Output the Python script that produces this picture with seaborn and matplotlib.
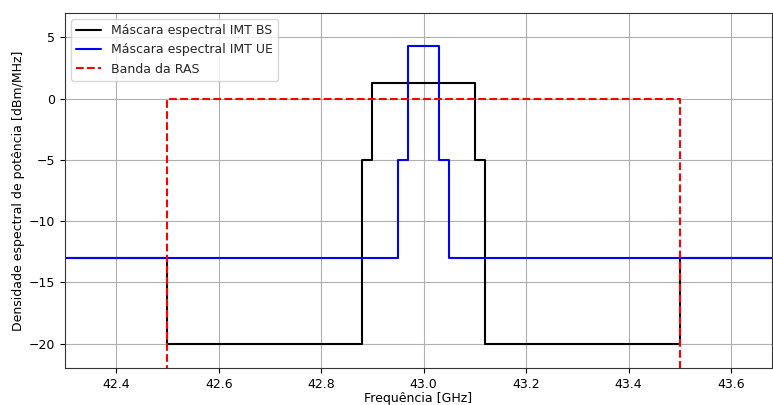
import numpy as np
import pandas as pd
import matplotlib
matplotlib.use("Agg")
import matplotlib.pyplot as plt
import seaborn as sns

# step breakpoints (GHz) and levels (dBm/MHz)
bs_freq = [42.3, 42.5, 42.88, 42.9, 43.1, 43.12, 43.5, 43.68]
bs_level = [-13, -20, -5, 1.3, -5, -20, -13, -13]

ue_freq = [42.3, 42.95, 42.97, 43.03, 43.05, 43.68]
ue_level = [-13, -5, 4.3, -5, -13, -13]

ras_freq = [42.5, 42.5, 43.5, 43.5]
ras_level = [-30, 0, 0, -30]

xticks = [42.4, 42.6, 42.8, 43.0, 43.2, 43.4, 43.6]
yticks = [-20, -15, -10, -5, 0, 5]

sns.set_style("ticks")
plt.rcParams['font.family'] = ['DejaVu Sans']

fig = plt.figure(figsize=(7.73, 4.05), dpi=100)
ax = fig.add_axes([65 / 773, 37 / 405, 707 / 773, 355 / 405])

bs = pd.DataFrame({'f': bs_freq, 'p': bs_level})
ue = pd.DataFrame({'f': ue_freq, 'p': ue_level})
ras = pd.DataFrame({'f': ras_freq, 'p': ras_level})

sns.lineplot(data=bs, x='f', y='p', ax=ax, color='black', linewidth=1.5,
             estimator=None, sort=False, drawstyle='steps-post',
             label='Máscara espectral IMT BS')
sns.lineplot(data=ue, x='f', y='p', ax=ax, color='blue', linewidth=1.5,
             estimator=None, sort=False, drawstyle='steps-post',
             label='Máscara espectral IMT UE')
sns.lineplot(data=ras, x='f', y='p', ax=ax, color='red', linewidth=1.5,
             estimator=None, sort=False, linestyle='--',
             label='Banda da RAS')

ax.set_xlim(42.3, 43.68)
ax.set_ylim(-22, 7)
ax.set_xticks(xticks)
ax.set_yticks(yticks)
ax.grid(True, color='#b0b0b0', linewidth=0.8)
ax.set_xlabel('Frequência [GHz]', fontsize=9, color='black', labelpad=1)
ax.set_ylabel('Densidade espectral de potência [dBm/MHz]', fontsize=9,
              color='black', labelpad=3)
ax.tick_params(labelsize=9, direction='out', length=3.5, colors='black')
for s in ax.spines.values():
    s.set_visible(True)
    s.set_color('#333333')
    s.set_linewidth(0.8)
ax.legend(loc='upper left', fontsize=9, frameon=True)

fig.savefig('out.png', dpi=100)
